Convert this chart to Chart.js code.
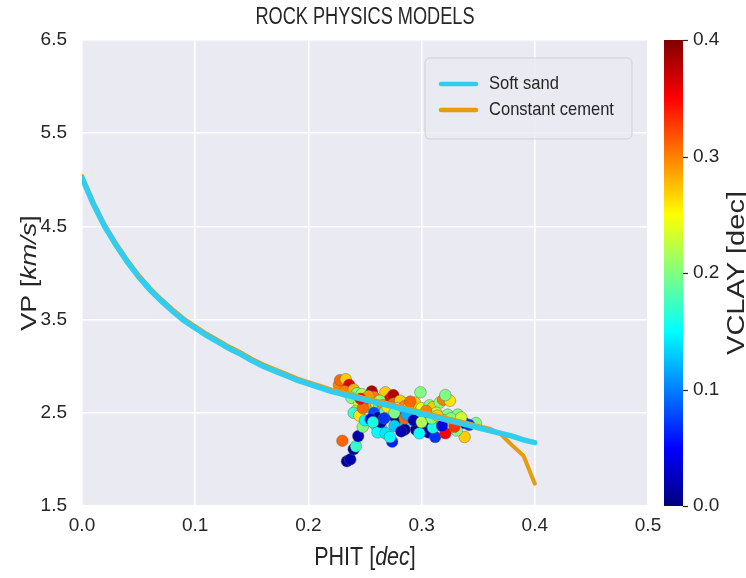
<!DOCTYPE html>
<html><head><meta charset="utf-8">
<script src="https://cdn.jsdelivr.net/npm/chart.js@4.4.1/dist/chart.umd.min.js"></script>
<style>html,body{margin:0;padding:0;background:#fff;}</style>
</head><body>
<canvas id="c" width="746" height="578"></canvas>
<script>
const FONT = '"Liberation Sans", Arial, Helvetica, sans-serif';
const TXT = '#262626';

const xTicks = [0.0, 0.1, 0.2, 0.3, 0.4, 0.5];
const yTicks = [1.5, 2.5, 3.5, 4.5, 5.5, 6.5];
const cbTicks = [0.0, 0.1, 0.2, 0.3, 0.4];

const modelPhi = [0.00,0.01,0.02,0.03,0.04,0.05,0.06,0.07,0.08,0.09,
  0.10,0.11,0.12,0.13,0.14,0.15,0.16,0.17,0.18,0.19,
  0.20,0.21,0.22,0.23,0.24,0.25,0.26,0.27,0.28,0.29,
  0.30,0.31,0.32,0.33,0.34,0.35,0.36,0.37,0.38,0.39,0.40];
const softSandVp = [5.02,4.74,4.50,4.30,4.12,3.96,3.82,3.70,3.59,3.49,
  3.41,3.33,3.26,3.19,3.13,3.06,3.00,2.95,2.90,2.85,
  2.81,2.77,2.73,2.70,2.67,2.64,2.61,2.58,2.55,2.52,
  2.49,2.46,2.43,2.40,2.37,2.34,2.31,2.28,2.25,2.21,2.18];
const constCementVp = [5.04,4.76,4.52,4.32,4.14,3.98,3.84,3.72,3.61,3.51,
  3.43,3.35,3.28,3.21,3.15,3.08,3.02,2.97,2.92,2.87,
  2.83,2.79,2.75,2.72,2.69,2.66,2.63,2.60,2.57,2.54,
  2.51,2.48,2.45,2.42,2.39,2.36,2.33,2.27,2.15,2.04,1.74];

const wellPhit = [0.227,0.228,0.233,0.236,0.232,0.240,0.243,0.247,0.238,0.245,
  0.242,0.240,0.245,0.252,0.255,0.250,0.230,0.234,0.237,0.240,
  0.242,0.244,0.248,0.250,0.256,0.258,0.260,0.262,0.258,0.262,
  0.255,0.260,0.265,0.261,0.268,0.264,0.274,0.272,0.268,0.272,
  0.275,0.275,0.283,0.281,0.278,0.285,0.273,0.280,0.278,0.286,
  0.285,0.295,0.285,0.290,0.292,0.294,0.299,0.300,0.297,0.302,
  0.306,0.312,0.298,0.307,0.310,0.316,0.319,0.325,0.321,0.323,
  0.332,0.348,0.338,0.342,0.338,0.331,0.321,0.315,0.320,0.328,
  0.313,0.305,0.310,0.250,0.253,0.263,0.266,0.268,0.270,0.276,
  0.288,0.290,0.287,0.293,0.300,0.304,0.309,0.314,0.318,0.326,
  0.335,0.329,0.276,0.282,0.267,0.257,0.248,0.246];
const wellVp = [2.80,2.85,2.86,2.80,2.73,2.75,2.71,2.70,2.66,2.60,
  2.52,2.50,2.47,2.62,2.55,2.58,2.20,1.98,2.00,2.11,
  2.14,2.25,2.35,2.42,2.73,2.67,2.60,2.55,2.50,2.45,
  2.43,2.36,2.32,2.29,2.28,2.40,2.19,2.24,2.72,2.65,
  2.69,2.60,2.61,2.63,2.55,2.57,2.48,2.45,2.43,2.40,
  2.32,2.32,2.44,2.50,2.58,2.61,2.72,2.55,2.45,2.38,
  2.29,2.24,2.28,2.58,2.56,2.61,2.64,2.63,2.69,2.48,
  2.48,2.39,2.39,2.37,2.24,2.31,2.28,2.40,2.42,2.40,
  2.50,2.46,2.34,2.65,2.68,2.63,2.58,2.52,2.56,2.50,
  2.55,2.62,2.48,2.42,2.40,2.52,2.44,2.47,2.36,2.44,
  2.45,2.35,2.36,2.30,2.44,2.40,2.55,2.65];
const wellVclay = [0.30,0.31,0.27,0.36,0.30,0.28,0.20,0.22,0.20,0.24,
  0.22,0.17,0.26,0.12,0.20,0.29,0.31,0.01,0.02,0.01,
  0.17,0.02,0.20,0.15,0.38,0.30,0.25,0.18,0.08,0.01,
  0.04,0.15,0.14,0.15,0.14,0.01,0.06,0.15,0.27,0.35,
  0.38,0.31,0.20,0.27,0.22,0.30,0.01,0.09,0.01,0.15,
  0.01,0.01,0.31,0.20,0.22,0.27,0.20,0.24,0.18,0.05,
  0.02,0.07,0.15,0.20,0.27,0.20,0.30,0.26,0.20,0.20,
  0.20,0.20,0.02,0.07,0.27,0.20,0.35,0.14,0.18,0.25,
  0.22,0.03,0.16,0.33,0.29,0.21,0.30,0.19,0.26,0.20,
  0.28,0.31,0.12,0.02,0.22,0.30,0.20,0.27,0.04,0.20,
  0.23,0.33,0.13,0.02,0.07,0.16,0.31,0.35];

const CB_MIN = 0.0, CB_MAX = 0.4;
function clamp(v){ return Math.max(0, Math.min(1, v)); }
function jet(t){
  const r = clamp(1.5 - Math.abs(4*t - 3));
  const g = clamp(1.5 - Math.abs(4*t - 2));
  const b = clamp(1.5 - Math.abs(4*t - 1));
  return 'rgb(' + Math.round(r*255) + ',' + Math.round(g*255) + ',' + Math.round(b*255) + ')';
}
function vclayColor(v){ return jet(clamp((v - CB_MIN)/(CB_MAX - CB_MIN))); }

const bgPlugin = {
  id: 'bg',
  beforeDraw(chart){
    const {ctx, chartArea:a} = chart;
    ctx.save();
    ctx.fillStyle = '#EAEAF2';
    ctx.fillRect(a.left, a.top, a.right - a.left, a.bottom - a.top);
    ctx.restore();
  }
};

function drawMixed(ctx, parts, cx, cy, size, sx){
  let total = 0;
  const ws = parts.map(p => {
    ctx.font = (p[1] ? 'italic ' : '') + size + 'px ' + FONT;
    const w = ctx.measureText(p[0]).width; total += w; return w;
  });
  ctx.save();
  ctx.translate(cx, cy);
  ctx.scale(sx, 1);
  let x = -total/2;
  parts.forEach((p, i) => {
    ctx.font = (p[1] ? 'italic ' : '') + size + 'px ' + FONT;
    ctx.fillText(p[0], x, 0);
    x += ws[i];
  });
  ctx.restore();
}
function drawVertical(ctx, parts, cx, cy, size, sx){
  ctx.save();
  ctx.translate(cx, cy);
  ctx.scale(sx, 1);
  ctx.rotate(-Math.PI/2);
  drawMixed(ctx, parts, 0, 0, size, 1);
  ctx.restore();
}

const decorPlugin = {
  id: 'decor',
  afterDraw(chart){
    const {ctx, chartArea:a} = chart;
    ctx.save();
    ctx.fillStyle = TXT;
    ctx.textBaseline = 'middle';
    ctx.textAlign = 'left';
    const cx = (a.left + a.right)/2;
    drawMixed(ctx, [['ROCK PHYSICS MODELS', false]], cx, 18, 23, 0.79);
    drawMixed(ctx, [['PHIT [', false], ['dec', true], [']', false]], cx, 558, 25, 0.86);
    drawVertical(ctx, [['VP [', false], ['km/s', true], [']', false]], 30, (a.top + a.bottom)/2, 27, 0.85);

    // legend
    const lx = 425, ly = 58, lw = 207, lh = 81, r = 5;
    ctx.beginPath();
    ctx.moveTo(lx + r, ly);
    ctx.arcTo(lx + lw, ly, lx + lw, ly + lh, r);
    ctx.arcTo(lx + lw, ly + lh, lx, ly + lh, r);
    ctx.arcTo(lx, ly + lh, lx, ly, r);
    ctx.arcTo(lx, ly, lx + lw, ly, r);
    ctx.closePath();
    ctx.fillStyle = 'rgba(234,234,242,0.85)';
    ctx.fill();
    ctx.strokeStyle = 'rgba(205,205,212,0.9)';
    ctx.lineWidth = 1;
    ctx.stroke();
    const items = [chart.data.datasets[0], chart.data.datasets[1]];
    items.forEach((ds, i) => {
      const y = 84 + i*26;
      ctx.beginPath();
      ctx.moveTo(441, y); ctx.lineTo(476, y);
      ctx.strokeStyle = ds.borderColor; ctx.lineWidth = 4.5; ctx.lineCap = 'round';
      ctx.stroke();
      ctx.fillStyle = TXT;
      ctx.save();
      ctx.translate(489, y);
      ctx.scale(0.87, 1);
      ctx.font = '19px ' + FONT;
      ctx.textAlign = 'left';
      ctx.fillText(ds.label, 0, 0);
      ctx.restore();
    });

    // colorbar
    const cb = chart.scales.cb;
    const top = cb.getPixelForValue(CB_MAX), bot = cb.getPixelForValue(CB_MIN);
    const x0 = 664, w = 19;
    const grad = ctx.createLinearGradient(0, bot, 0, top);
    for (let k = 0; k <= 40; k++) grad.addColorStop(k/40, jet(k/40));
    ctx.fillStyle = grad;
    ctx.fillRect(x0, top, w, bot - top);
    ctx.strokeStyle = TXT; ctx.lineWidth = 1.2; ctx.lineCap = 'butt';
    cb.ticks.forEach(t => {
      const y = Math.round(cb.getPixelForValue(t.value)) + 0.5;
      ctx.beginPath(); ctx.moveTo(x0 + w, y); ctx.lineTo(x0 + w + 5, y); ctx.stroke();
    });
    ctx.fillStyle = TXT;
    drawVertical(ctx, [['VCLAY [dec]', false]], 737, (top + bot)/2, 29, 0.82);
    ctx.restore();
  }
};

const tickFont = {family: FONT, size: 19};

new Chart(document.getElementById('c'), {
  type: 'scatter',
  data: {
    datasets: [
      {
        label: 'Soft sand',
        data: modelPhi.map((p, i) => ({x: p, y: softSandVp[i]})),
        showLine: true, borderColor: '#31cdee', borderWidth: 5.5, pointRadius: 0,
        borderCapStyle: 'round', tension: 0, fill: false
      },
      {
        label: 'Constant cement',
        data: modelPhi.map((p, i) => ({x: p, y: constCementVp[i]})),
        showLine: true, borderColor: '#e69b10', borderWidth: 4, pointRadius: 0,
        borderCapStyle: 'round', tension: 0, fill: false
      },
      {
        label: 'Well',
        data: wellPhit.map((p, i) => ({x: p, y: wellVp[i]})),
        pointRadius: 5.8,
        pointBackgroundColor: wellVclay.map(vclayColor),
        pointBorderColor: 'rgba(95,95,95,0.75)',
        pointBorderWidth: 0.6
      }
    ]
  },
  options: {
    responsive: false,
    animation: false,
    layout: {padding: {top: 40, left: 0, right: 0, bottom: 0}},
    plugins: {legend: {display: false}, tooltip: {enabled: false}, title: {display: false}},
    scales: {
      x: {
        type: 'linear', min: 0, max: 0.5,
        afterBuildTicks: s => { s.ticks = xTicks.map(v => ({value: v})); },
        afterFit: s => { s.height = 72; },
        grid: {color: '#ffffff', lineWidth: 1.6, drawTicks: false},
        border: {display: false},
        ticks: {padding: 8, color: TXT, font: tickFont, callback: v => Number(v).toFixed(1)}
      },
      y: {
        type: 'linear', min: 1.5, max: 6.5,
        afterBuildTicks: s => { s.ticks = yTicks.map(v => ({value: v})); },
        afterFit: s => { s.width = 82; },
        grid: {color: '#ffffff', lineWidth: 1.6, drawTicks: false},
        border: {display: false},
        ticks: {padding: 15, color: TXT, font: tickFont, callback: v => Number(v).toFixed(1)}
      },
      cb: {
        type: 'linear', position: 'right', min: CB_MIN, max: CB_MAX,
        afterBuildTicks: s => { s.ticks = cbTicks.map(v => ({value: v})); },
        afterFit: s => { s.width = 98; },
        grid: {display: true, drawOnChartArea: false, drawTicks: true, tickLength: 41, tickColor: 'rgba(0,0,0,0)'},
        border: {display: false},
        ticks: {padding: 4, color: TXT, font: tickFont, callback: v => Number(v).toFixed(1)}
      }
    }
  },
  plugins: [bgPlugin, decorPlugin]
});
</script>
</body></html>
